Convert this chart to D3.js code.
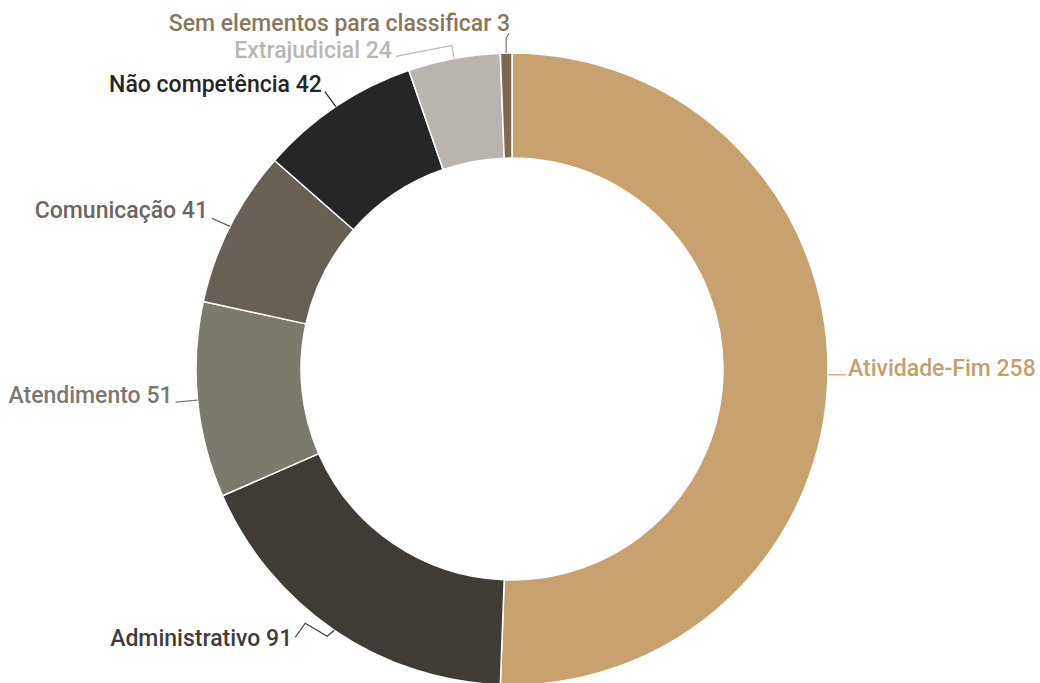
<!DOCTYPE html>
<html>
<head>
<meta charset="utf-8">
<script src="https://cdn.jsdelivr.net/npm/d3@7"></script>
<style>
  html, body { margin: 0; padding: 0; background: #ffffff; }
  svg { display: block; }
  .label { font-family: Roboto, "Noto Sans", sans-serif; font-size: 23px; font-weight: 500; }
</style>
</head>
<body>
<svg id="chart" width="1040" height="683"></svg>
<script>
// Categories and counts, in clockwise order from 12 o'clock
const categories = [
  "Atividade-Fim",
  "Administrativo",
  "Atendimento",
  "Comunicação",
  "Não competência",
  "Extrajudicial",
  "Sem elementos para classificar"
];
const values = [258, 91, 51, 41, 42, 24, 3];

// Slice fills and label colours
const sliceColors = ["#c7a26f", "#403c35", "#7b7a6d", "#685f55", "#262626", "#b9b5ae", "#7e6a4e"];
const labelColors = ["#c6a06b", "#3f3d39", "#7a796f", "#6b665e", "#262626", "#bab7b1", "#8a7759"];

// Label placement relative to each slice's outer midpoint:
// text anchor offset and the bends of the leader line
const labelLayout = [
  { anchor: "start", dx: 20,  dy: 1,   path: [[18, 0]] },
  { anchor: "end",   dx: -42, dy: 16,  path: [[-7, 6], [-29, -7], [-39, 7]] },
  { anchor: "end",   dx: -25, dy: 3,   path: [[-22, 2]] },
  { anchor: "end",   dx: -22, dy: -8,  path: [[-18, -8]] },
  { anchor: "end",   dx: -14, dy: -15, path: [[-11, -15]] },
  { anchor: "end",   dx: -62, dy: 0,   path: [[-2, -13], [-58, -2]] },
  { anchor: "end",   dx: 4,   dy: -22, path: [[0, -15], [3, -20]] }
];

const width = 1040, height = 683;
const cx = 512, cy = 369;
const outerR = 316, innerR = 211;

const svg = d3.select("#chart");
const g = svg.append("g").attr("transform", `translate(${cx},${cy})`);

const data = categories.map((c, i) => ({ name: c, value: values[i], i }));

const pie = d3.pie()
  .value(d => d.value)
  .sort(null)
  .startAngle(0)
  .endAngle(2 * Math.PI);

const arcs = pie(data);

const arc = d3.arc().innerRadius(innerR).outerRadius(outerR);

g.selectAll("path.slice")
  .data(arcs)
  .join("path")
  .attr("class", "slice")
  .attr("d", arc)
  .attr("fill", d => sliceColors[d.data.i])
  .attr("stroke", "#ffffff")
  .attr("stroke-width", 1.5)
  .attr("stroke-linejoin", "round");

// Leader lines start on the outer rim at each slice's mid-angle
const rimPoint = d => {
  const a = (d.startAngle + d.endAngle) / 2;
  return [outerR * Math.sin(a), -outerR * Math.cos(a)];
};

const line = d3.line();

g.selectAll("path.leader")
  .data(arcs)
  .join("path")
  .attr("class", "leader")
  .attr("fill", "none")
  .attr("stroke", d => labelColors[d.data.i])
  .attr("stroke-width", 1.2)
  .attr("d", d => {
    const [x, y] = rimPoint(d);
    const lay = labelLayout[d.data.i];
    const pts = [[x, y]].concat(lay.path.map(p => [x + p[0], y + p[1]]));
    return line(pts);
  });

g.selectAll("text.label")
  .data(arcs)
  .join("text")
  .attr("class", "label")
  .attr("text-anchor", d => labelLayout[d.data.i].anchor)
  .attr("x", d => rimPoint(d)[0] + labelLayout[d.data.i].dx)
  .attr("y", d => rimPoint(d)[1] + labelLayout[d.data.i].dy)
  .attr("fill", d => labelColors[d.data.i])
  .text(d => `${d.data.name} ${d.data.value}`);
</script>
</body>
</html>
